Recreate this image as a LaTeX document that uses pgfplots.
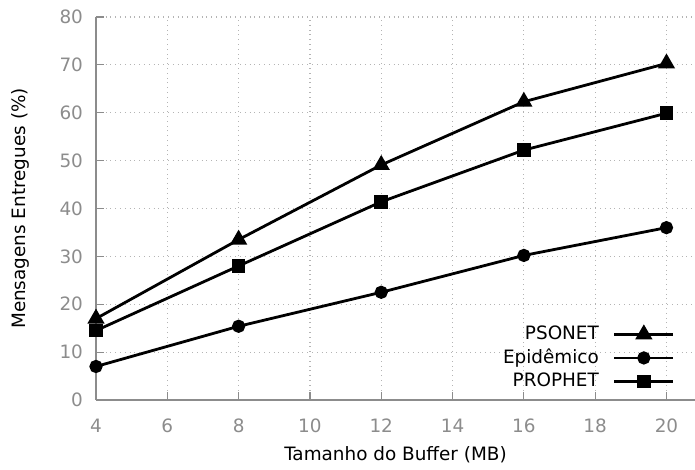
\documentclass[border=0pt]{standalone}
\usepackage{pgfplots}
\pgfplotsset{compat=1.18}
\usepackage{fontspec}
\setmainfont{DejaVu Sans}
\definecolor{axgray}{HTML}{8C8C8C}
\definecolor{gridgray}{HTML}{B4B4B4}
\begin{document}
\begin{tikzpicture}
\useasboundingbox (-48pt,-35pt) rectangle (299.5pt,200pt);
\begin{axis}[
  at={(0,0)}, anchor=south west,
  scale only axis, width=299.5pt, height=191.5pt,
  xmin=4, xmax=20.8, ymin=0, ymax=80,
  xtick={4,6,...,20}, ytick={0,10,...,80},
  axis x line*=bottom, axis y line*=left,
  axis line style={axgray, line width=0.8pt, -},
  tick align=inside, major tick length=4pt,
  tick style={axgray, line width=0.6pt},
  grid=major, major grid style={gridgray, dotted, line width=0.6pt},
  /pgf/number format/assume math mode=true,
  tick label style={font=\fontsize{9.2}{10}\selectfont, text=axgray},
  yticklabel style={xshift=-3pt},
  xticklabel style={yshift=-6pt},
  label style={font=\fontsize{9.2}{10}\selectfont},
  xlabel={Tamanho do Buffer (MB)},
  ylabel={Mensagens Entregues (\%)},
  xlabel style={yshift=0pt},
  ylabel style={yshift=8pt},
  clip=false,
  legend plot pos=right,
  legend cell align=right,
  legend style={at={(rel axis cs:0.967,0.015)}, anchor=south east, draw=none, fill=none,
    font=\fontsize{9.2}{10}\selectfont, row sep=-0.8pt, inner sep=0pt},
  legend image code/.code={\draw[mark repeat=2,mark phase=2] plot coordinates {(0cm,0cm)(0.52cm,0cm)(1.04cm,0cm)};},
]
\addplot[black, line width=1.4pt, mark=triangle*, mark size=3.6pt, mark options={solid}] coordinates {(4,17.0) (8,33.5) (12,49.1) (16,62.3) (20,70.3)};
\addlegendentry{PSONET\kern5pt}
\addplot[black, line width=1.4pt, mark=*, mark size=2.6pt, mark options={solid}] coordinates {(4,7.0) (8,15.4) (12,22.5) (16,30.2) (20,36.0)};
\addlegendentry{Epidêmico\kern5pt}
\addplot[black, line width=1.4pt, mark=square*, mark size=2.7pt, mark options={solid}] coordinates {(4,14.5) (8,28.0) (12,41.4) (16,52.2) (20,59.9)};
\addlegendentry{PROPHET\kern5pt}
\end{axis}
\end{tikzpicture}
\end{document}
